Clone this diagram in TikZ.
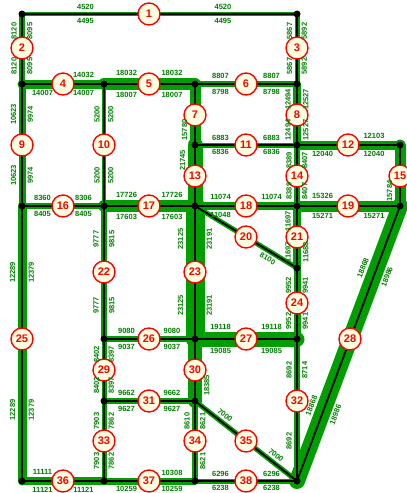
\documentclass[tikz,border=0pt]{standalone}
\usepackage{fontspec}
\setmainfont{Liberation Sans}
\usepackage{tikz}
\definecolor{bandgreen}{RGB}{0,158,0}
\definecolor{flowgreen}{RGB}{0,125,0}
\definecolor{zonefill}{RGB}{255,255,226}
\pgfdeclarelayer{bands}
\pgfdeclarelayer{spines}
\pgfsetlayers{bands,spines,main}
\tikzset{
zone/.style={circle,draw=red,line width=1.4pt,fill=zonefill,text=red,inner sep=0pt,minimum size=22pt,font=\fontsize{11}{11}\selectfont\bfseries},
junc/.style={circle,fill=black,inner sep=0pt,minimum size=7pt},
band/.style={draw=bandgreen,line width=#1pt,line cap=round},
spine/.style={draw=black,line width=1.8pt},
flow/.style={sloped,midway,inner xsep=0pt,text=flowgreen,font=\fontsize{7.5}{8}\selectfont\bfseries}
}
\newcommand\flowtag[5]{\if\relax\detokenize{#5}\relax\else
\path(#1.center)--(#2.center)node[flow,anchor=#3,inner ysep={#4*0.5pt+2pt}]{#5};\fi}
\newcommand\flowlink[8]{%
\begin{pgfonlayer}{bands}\draw[band=#4](#1.center)--(#3.center);\end{pgfonlayer}
\begin{pgfonlayer}{spines}\draw[spine](#1.center)--(#3.center);\end{pgfonlayer}
\flowtag{#1}{#2}{south}{#4}{#5}\flowtag{#1}{#2}{north}{#4}{#6}%
\flowtag{#2}{#3}{south}{#4}{#7}\flowtag{#2}{#3}{north}{#4}{#8}%
}

\begin{document}
\begin{tikzpicture}[x=1pt,y=-1pt]
\useasboundingbox(0,0)rectangle(407,493);

\node[junc](a1)at(22,14){};
\node[junc](d1)at(297,14){};
\node[junc](a2)at(22,84){};
\node[junc](b2)at(104,84){};
\node[junc](c2)at(195,84){};
\node[junc](d2)at(297,84){};
\node[junc](c3)at(195,145){};
\node[junc](d3)at(297,145){};
\node[junc](e3)at(400,145){};
\node[junc](a4)at(22,206){};
\node[junc](b4)at(104,206){};
\node[junc](c4)at(195,206){};
\node[junc](d4)at(297,206){};
\node[junc](e4)at(400,206){};
\node[junc](d5)at(297,268){};
\node[junc](b6)at(104,339){};
\node[junc](c6)at(195,339){};
\node[junc](d6)at(297,339){};
\node[junc](b7)at(104,401){};
\node[junc](c7)at(195,401){};
\node[junc](a8)at(22,481){};
\node[junc](b8)at(104,481){};
\node[junc](c8)at(195,481){};
\node[junc](d8)at(297,481){};

\node[zone](z1)at(149,14){1};
\node[zone](z2)at(22,48){2};
\node[zone](z3)at(297,48){3};
\node[zone](z4)at(63,84){4};
\node[zone](z5)at(149,84){5};
\node[zone](z6)at(246,84){6};
\node[zone](z7)at(195,115){7};
\node[zone](z8)at(297,115){8};
\node[zone](z9)at(22,145){9};
\node[zone](z10)at(104,145){10};
\node[zone](z11)at(246,145){11};
\node[zone](z12)at(348,145){12};
\node[zone](z13)at(195,176){13};
\node[zone](z14)at(297,176){14};
\node[zone](z15)at(400,176){15};
\node[zone](z16)at(63,206){16};
\node[zone](z17)at(149,206){17};
\node[zone](z18)at(246,206){18};
\node[zone](z19)at(348,206){19};
\node[zone](z20)at(246,237){20};
\node[zone](z21)at(297,237){21};
\node[zone](z22)at(104,272){22};
\node[zone](z23)at(195,272){23};
\node[zone](z24)at(297,303){24};
\node[zone](z25)at(22,339){25};
\node[zone](z26)at(149,339){26};
\node[zone](z27)at(246,339){27};
\node[zone](z28)at(350,339){28};
\node[zone](z29)at(104,370){29};
\node[zone](z30)at(195,370){30};
\node[zone](z31)at(149,401){31};
\node[zone](z32)at(297,401){32};
\node[zone](z33)at(104,441){33};
\node[zone](z34)at(195,441){34};
\node[zone](z35)at(246,441){35};
\node[zone](z36)at(63,481){36};
\node[zone](z37)at(149,481){37};
\node[zone](z38)at(246,481){38};

\flowlink{a1}{z1}{d1}{4}{4520}{4495}{4520}{4495}
\flowlink{a2}{z2}{a1}{6}{8120}{8095}{8120}{8095}
\flowlink{d2}{z3}{d1}{5}{5867}{5892}{5867}{5892}
\flowlink{a2}{z4}{b2}{9}{}{14007}{14032}{14007}
\flowlink{b2}{z5}{c2}{12}{18032}{18007}{18032}{18007}
\flowlink{c2}{z6}{d2}{6}{8807}{8798}{8807}{8798}
\flowlink{c3}{z7}{c2}{11}{15780}{}{}{}
\flowlink{d3}{z8}{d2}{8}{12494}{12527}{12494}{12527}
\flowlink{a4}{z9}{a2}{7}{10623}{9974}{10623}{9974}
\flowlink{b4}{z10}{b2}{4}{5200}{5200}{5200}{5200}
\flowlink{c3}{z11}{d3}{5}{6883}{6836}{6883}{6836}
\flowlink{d3}{z12}{e3}{9}{}{12040}{12103}{12040}
\flowlink{c4}{z13}{c3}{15}{}{}{21745}{}
\flowlink{d4}{z14}{d3}{6}{8389}{8407}{8389}{8407}
\flowlink{e4}{z15}{e3}{11}{15784}{}{}{}
\flowlink{a4}{z16}{b4}{6}{8360}{8405}{8306}{8405}
\flowlink{b4}{z17}{c4}{12}{17726}{17603}{17726}{17603}
\flowlink{c4}{z18}{d4}{8}{11074}{11048}{11074}{}
\flowlink{d4}{z19}{e4}{11}{15326}{15271}{}{15271}
\flowlink{c4}{z20}{d5}{5}{}{}{}{8100}
\flowlink{d5}{z21}{d4}{8}{11697}{11688}{11697}{}
\flowlink{b6}{z22}{b4}{6}{9777}{9815}{9777}{9815}
\flowlink{c6}{z23}{c4}{19}{23125}{23191}{23125}{23191}
\flowlink{d6}{z24}{d5}{7}{9952}{9941}{9952}{9941}
\flowlink{a8}{z25}{a4}{9}{12289}{12379}{12289}{12379}
\flowlink{b6}{z26}{c6}{6}{9080}{9037}{9080}{9037}
\flowlink{c6}{z27}{d6}{15}{19118}{19085}{19118}{19085}
\flowlink{d8}{z28}{e4}{16}{18868}{18986}{18868}{18986}
\flowlink{b7}{z29}{b6}{5}{8402}{8397}{8402}{8397}
\flowlink{c7}{z30}{c6}{14}{}{18385}{}{}
\flowlink{b7}{z31}{c7}{6}{9662}{9627}{9662}{9627}
\flowlink{d8}{z32}{d6}{6}{8692}{}{8692}{8714}
\flowlink{b8}{z33}{b7}{5}{7903}{7862}{7903}{7862}
\flowlink{c8}{z34}{c7}{6}{}{8621}{8610}{8621}
\flowlink{c7}{z35}{d8}{5}{7000}{}{7000}{}
\flowlink{a8}{z36}{b8}{8}{11111}{11121}{}{11121}
\flowlink{b8}{z37}{c8}{7}{}{10259}{10308}{10259}
\flowlink{c8}{z38}{d8}{5}{6296}{6238}{6296}{6238}
\end{tikzpicture}
\end{document}
